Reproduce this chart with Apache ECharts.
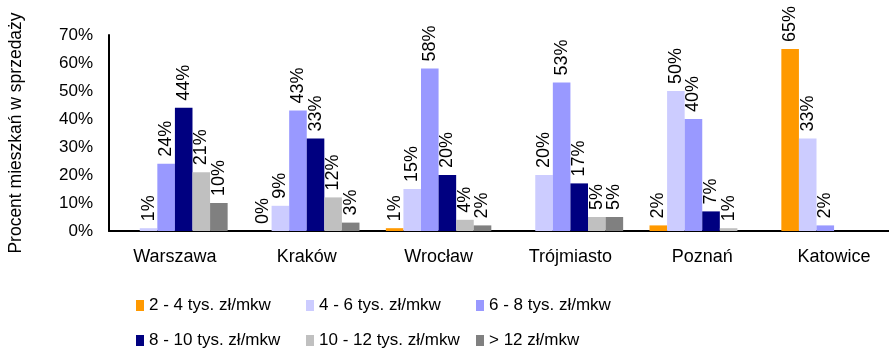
<!DOCTYPE html>
<html>
<head>
<meta charset="utf-8">
<style>
  html, body { margin: 0; padding: 0; background: #fff; }
  #chart { width: 889px; height: 350px; }
</style>
<script src="https://cdn.jsdelivr.net/npm/echarts@6/dist/echarts.min.js"></script>
</head>
<body>
<div id="chart"></div>
<script>
// Cities on the category axis
const cities = ['Warszawa', 'Kraków', 'Wrocław', 'Trójmiasto', 'Poznań', 'Katowice'];

// Share of flats on sale (%) per price band; null = no flats in that band
const band2to4   = [null, 0, 1, null, 2, 65];
const band4to6   = [1, 9, 15, 20, 50, 33];
const band6to8   = [24, 43, 58, 53, 40, 2];
const band8to10  = [44, 33, 20, 17, 7, null];
const band10to12 = [21, 12, 4, 5, 1, null];
const bandOver12 = [10, 3, 2, 5, null, null];

const bandNames = [
  '2 - 4 tys. zł/mkw', '4 - 6 tys. zł/mkw', '6 - 8 tys. zł/mkw',
  '8 - 10 tys. zł/mkw', '10 - 12 tys. zł/mkw', '> 12 zł/mkw'
];
const bandValues = [band2to4, band4to6, band6to8, band8to10, band10to12, bandOver12];
const bandColors = ['#FF9900', '#CCCCFF', '#9999FF', '#000080', '#C0C0C0', '#808080'];

// Y axis tick range
const yMin = 0, yMax = 70, yStep = 10;

const FONT = '"Liberation Sans", Arial, sans-serif';

const series = bandNames.map((name, i) => ({
  name: name,
  type: 'bar',
  data: bandValues[i],
  barGap: '0%',
  barCategoryGap: '20%',
  itemStyle: { color: bandColors[i] },
  label: {
    show: true,
    position: 'top',
    rotate: 90,
    align: 'left',
    verticalAlign: 'middle',
    distance: 7,
    fontFamily: FONT,
    fontSize: 18,
    color: '#000',
    formatter: p => (p.value == null ? '' : p.value + '%')
  }
}));

// Legend laid out as a 3 x 2 grid of single-item legends
const legendCols = [136, 306, 476];
const legendRows = [305, 340];
const legends = bandNames.map((name, i) => ({
  data: [name],
  left: legendCols[i % 3],
  top: legendRows[Math.floor(i / 3)] - 8,
  padding: 0,
  itemWidth: 8,
  itemHeight: 11,
  icon: 'rect',
  selectedMode: false,
  textStyle: { fontFamily: FONT, fontSize: 17, color: '#000', lineHeight: 17 }
}));

const chart = echarts.init(document.getElementById('chart'), null, { renderer: 'canvas' });
chart.setOption({
  animation: false,
  backgroundColor: '#fff',
  // the plot runs past the right edge of the canvas
  grid: {
    left: 109, width: 791, top: 35, height: 196,
    containLabel: false, outerBoundsMode: 'none'
  },
  legend: legends,
  xAxis: {
    type: 'category',
    data: cities,
    axisLine: { lineStyle: { color: '#000', width: 2 } },
    axisTick: { show: false },
    axisLabel: { fontFamily: FONT, fontSize: 18, color: '#000', margin: 17 }
  },
  yAxis: {
    type: 'value',
    min: yMin,
    max: yMax,
    interval: yStep,
    name: 'Procent mieszkań w sprzedaży',
    nameLocation: 'middle',
    nameGap: 84,
    nameTextStyle: { fontFamily: FONT, fontSize: 17.5, color: '#000' },
    axisLine: { show: true, lineStyle: { color: '#000', width: 2 } },
    axisTick: { show: false },
    splitLine: { show: false },
    axisLabel: { fontFamily: FONT, fontSize: 17, color: '#000', margin: 16, formatter: '{value}%' }
  },
  series: series
});
</script>
</body>
</html>
